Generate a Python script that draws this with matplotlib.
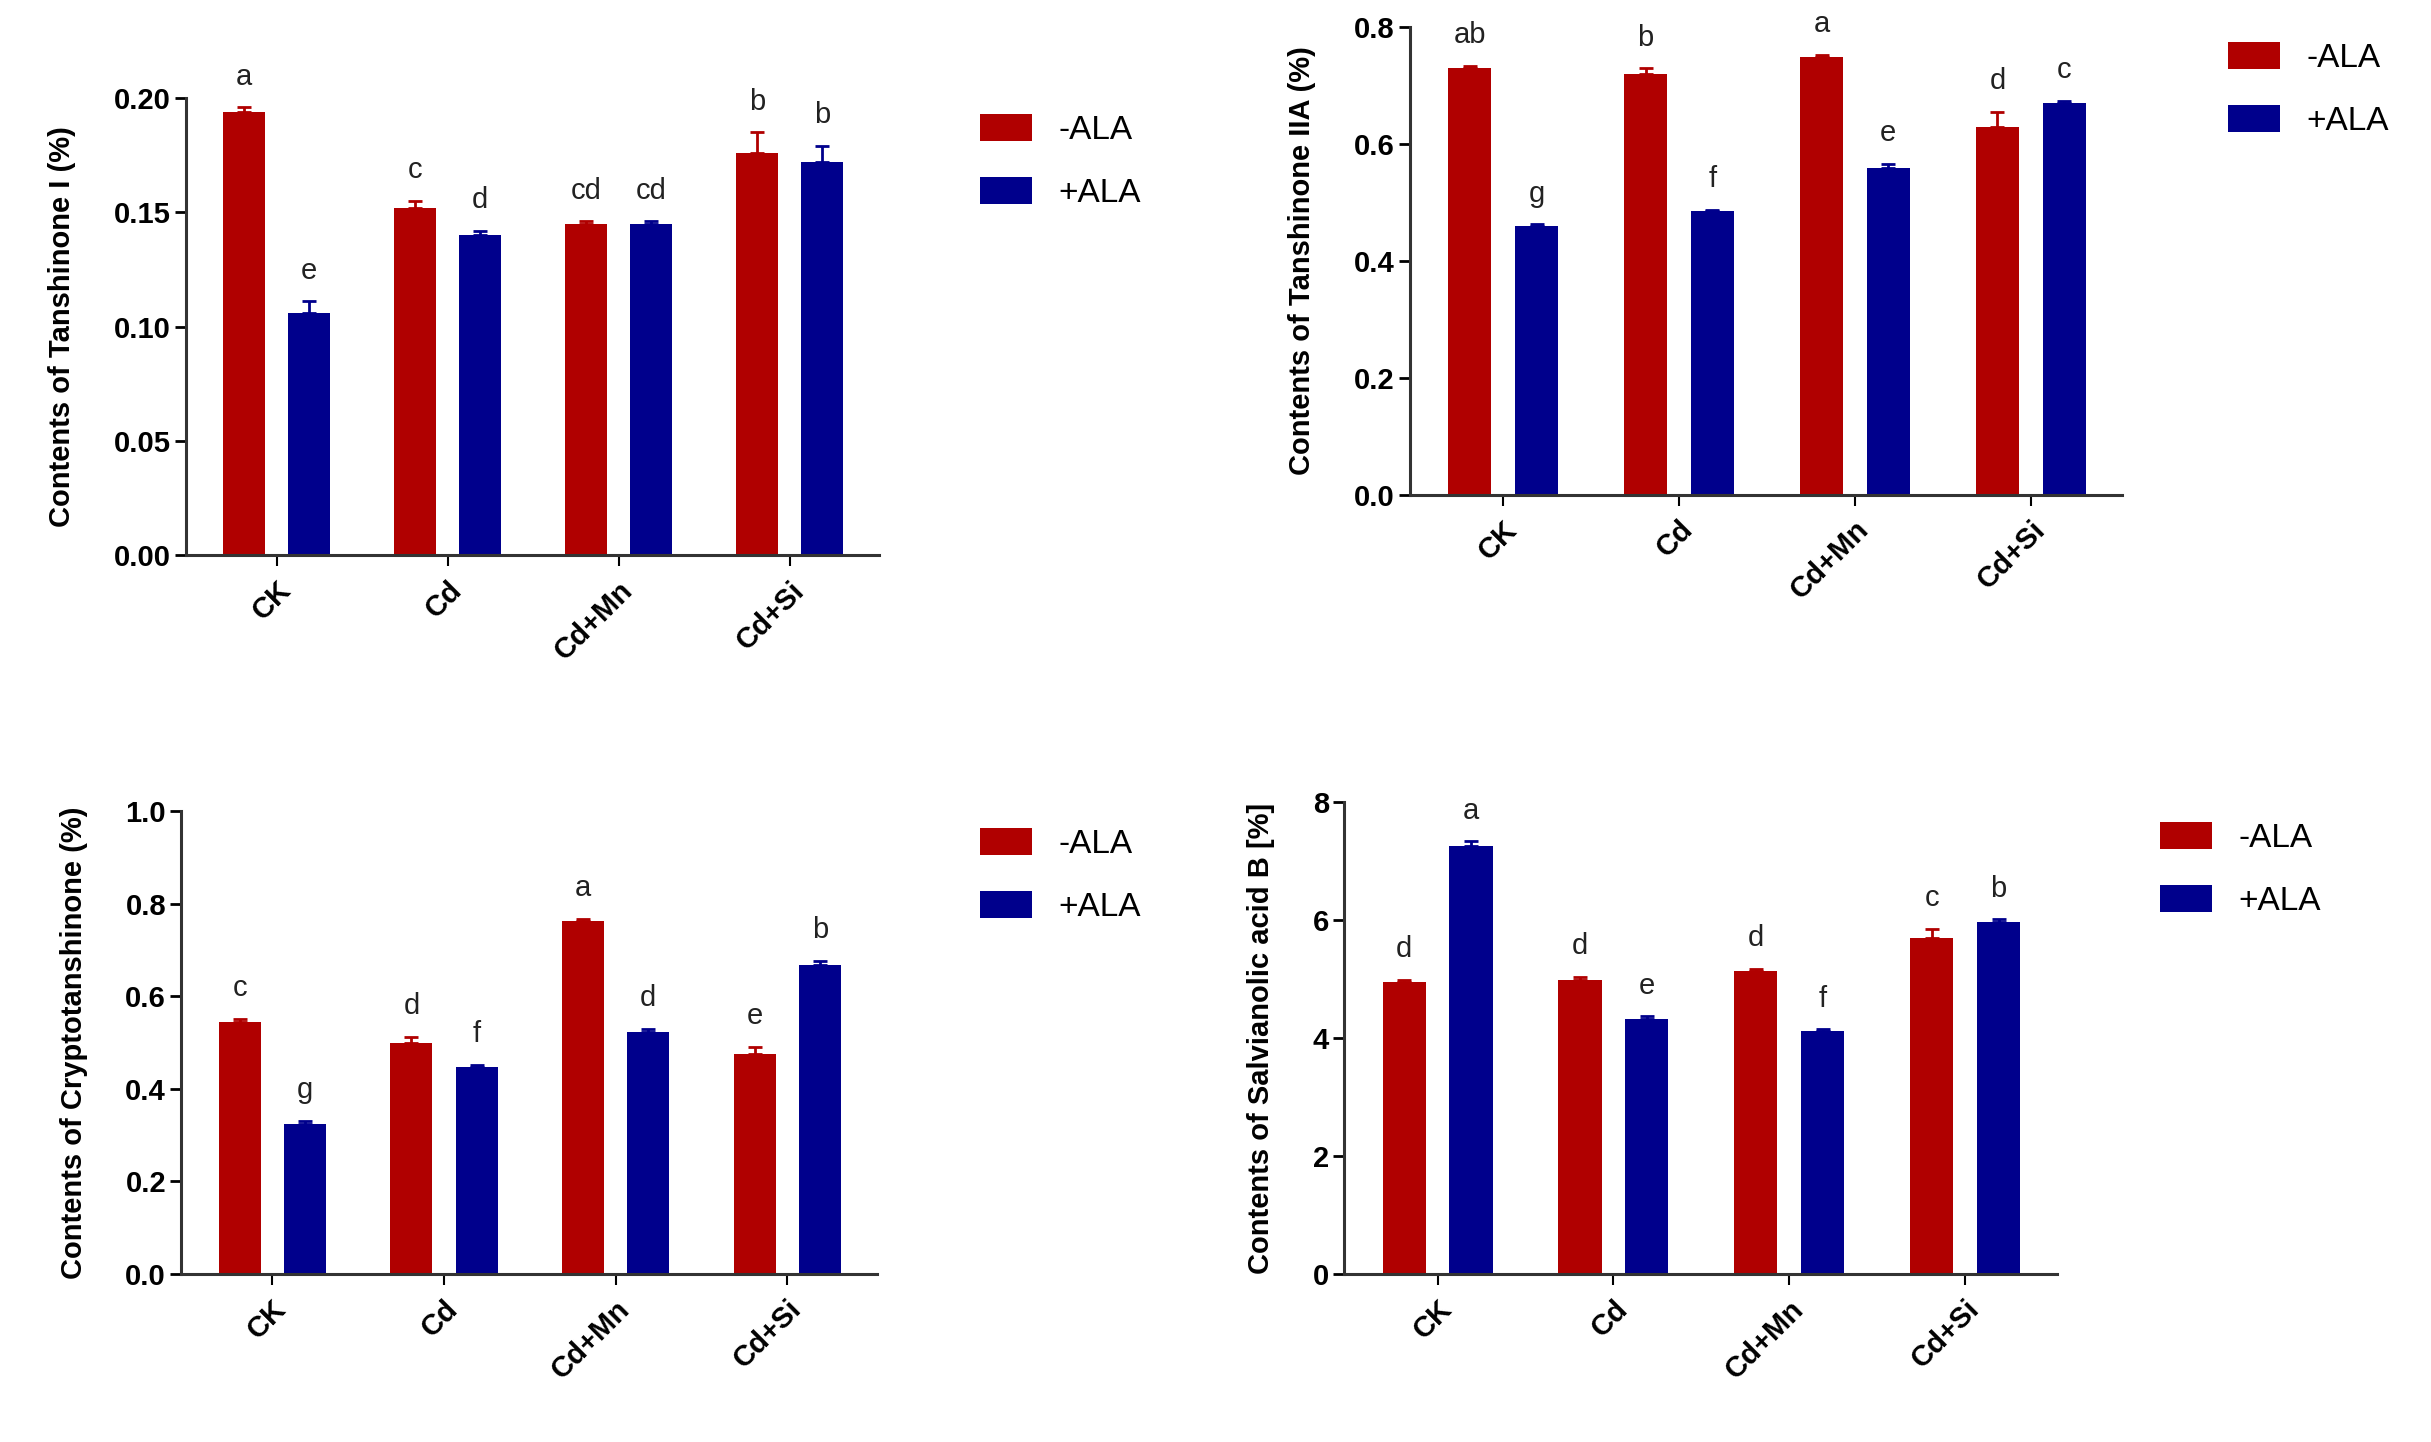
import numpy as np
import matplotlib
matplotlib.use("Agg")
import matplotlib.pyplot as plt

plt.rcParams['font.family'] = ['Liberation Sans', 'DejaVu Sans']

groups = ["CK", "Cd", "Cd+Mn", "Cd+Si"]
series = ["-ALA", "+ALA"]

# Tanshinone I
tan1_minus = [0.194, 0.152, 0.145, 0.176]
tan1_minus_err = [0.002, 0.003, 0.001, 0.009]
tan1_plus = [0.106, 0.140, 0.145, 0.172]
tan1_plus_err = [0.005, 0.002, 0.001, 0.007]
tan1_letters_minus = ["a", "c", "cd", "b"]
tan1_letters_plus = ["e", "d", "cd", "b"]

# Tanshinone IIA
tan2_minus = [0.73, 0.72, 0.75, 0.63]
tan2_minus_err = [0.004, 0.01, 0.003, 0.025]
tan2_plus = [0.46, 0.485, 0.56, 0.67]
tan2_plus_err = [0.003, 0.003, 0.006, 0.004]
tan2_letters_minus = ["ab", "b", "a", "d"]
tan2_letters_plus = ["g", "f", "e", "c"]

# Cryptotanshinone
cry_minus = [0.545, 0.50, 0.762, 0.475]
cry_minus_err = [0.006, 0.012, 0.005, 0.016]
cry_plus = [0.325, 0.448, 0.522, 0.668]
cry_plus_err = [0.006, 0.004, 0.007, 0.008]
cry_letters_minus = ["c", "d", "a", "e"]
cry_letters_plus = ["g", "f", "d", "b"]

# Salvianolic acid B
sal_minus = [4.96, 4.99, 5.14, 5.70]
sal_minus_err = [0.03, 0.05, 0.04, 0.16]
sal_plus = [7.27, 4.33, 4.12, 5.98]
sal_plus_err = [0.07, 0.04, 0.03, 0.04]
sal_letters_minus = ["d", "d", "d", "c"]
sal_letters_plus = ["a", "e", "f", "b"]

RED = "#B00000"
BLUE = "#00008C"

fig = plt.figure(figsize=(24.31, 14.42), dpi=100)


def panel(rect, minus, minus_err, plus, plus_err, let_m, let_p,
          ymax, ystep, fmt, ylabel, leg_xy):
    ax = fig.add_axes(rect)
    x = np.arange(len(groups))
    off = 0.19
    w = 0.245
    for vals, errs, lets, col, dx, lab in [
            (minus, minus_err, let_m, RED, -off, series[0]),
            (plus, plus_err, let_p, BLUE, off, series[1])]:
        ax.bar(x + dx, vals, width=w, color=col, label=lab,
               yerr=[np.zeros(len(vals)), errs], ecolor=col,
               capsize=5, error_kw=dict(elinewidth=2, capthick=2))
        for xi, v, e, t in zip(x + dx, vals, errs, lets):
            ax.annotate(t, (xi, v + e), xytext=(0, 12), textcoords="offset points",
                        ha="center", va="bottom", fontsize=21, color="#222222",
                        annotation_clip=False)
    ticks = np.arange(0, ymax + ystep / 2, ystep)
    ax.set_xlim(-0.53, 3.52)
    ax.set_ylim(0, ymax)
    ax.set_yticks(ticks)
    ax.set_yticklabels([fmt % v for v in ticks], fontsize=21, fontweight="bold")
    ax.set_xticks(x)
    ax.set_xticklabels(groups, rotation=45, ha="right", rotation_mode="anchor",
                       fontsize=21, fontweight="bold")
    ax.tick_params(axis="y", direction="out", length=8, width=2, pad=3)
    ax.tick_params(axis="x", direction="out", length=8, width=1.5, pad=7)
    for s in ["top", "right"]:
        ax.spines[s].set_visible(False)
    for s in ["left", "bottom"]:
        ax.spines[s].set_linewidth(2.2)
        ax.spines[s].set_color("#333333")
    ax.set_ylabel(ylabel, fontsize=21, fontweight="bold", labelpad=27)
    ax.legend(loc="upper left", bbox_to_anchor=leg_xy, bbox_transform=fig.transFigure,
              frameon=False, fontsize=24, handlelength=1.55, handleheight=0.85,
              handletextpad=0.8, labelspacing=0.95, borderpad=0, borderaxespad=0)
    return ax


panel([0.0765, 0.615, 0.285, 0.317], tan1_minus, tan1_minus_err, tan1_plus, tan1_plus_err,
      tan1_letters_minus, tan1_letters_plus, 0.20, 0.05, "%.2f",
      "Contents of Tanshinone I (%)", (980 / 2431, 1 - 114 / 1442))
panel([0.580, 0.657, 0.293, 0.324], tan2_minus, tan2_minus_err, tan2_plus, tan2_plus_err,
      tan2_letters_minus, tan2_letters_plus, 0.8, 0.2, "%.1f",
      "Contents of Tanshinone IIA (%)", (2228 / 2431, 1 - 42 / 1442))
panel([0.0746, 0.1165, 0.286, 0.321], cry_minus, cry_minus_err, cry_plus, cry_plus_err,
      cry_letters_minus, cry_letters_plus, 1.0, 0.2, "%.1f",
      "Contents of Cryptotanshinone (%)", (980 / 2431, 1 - 828 / 1442))
panel([0.553, 0.1165, 0.293, 0.327], sal_minus, sal_minus_err, sal_plus, sal_plus_err,
      sal_letters_minus, sal_letters_plus, 8, 2, "%d",
      "Contents of Salvianolic acid B [%]", (2160 / 2431, 1 - 822 / 1442))

fig.savefig("out.png", dpi=100)
